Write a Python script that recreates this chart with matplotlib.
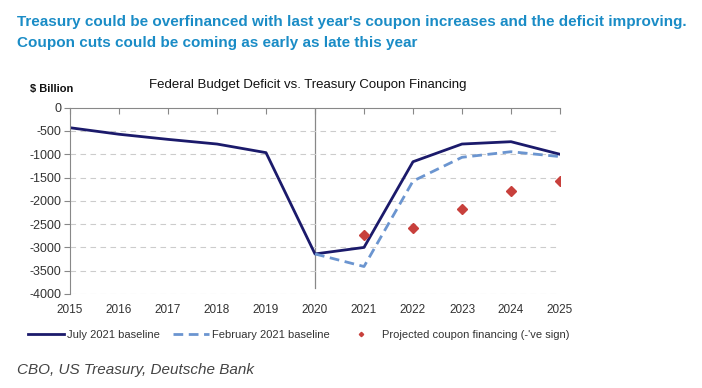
import matplotlib.pyplot as plt

years = [2015, 2016, 2017, 2018, 2019, 2020, 2021, 2022, 2023, 2024, 2025]
july_2021 = [-430, -570, -680, -780, -965, -3140, -3000, -1160, -780, -730, -1000]
feb_years = [2020, 2021, 2022, 2023, 2024, 2025]
feb_2021 = [-3140, -3410, -1575, -1065, -945, -1050]
proj_years = [2021, 2022, 2023, 2024, 2025]
proj_coupon = [-2730, -2590, -2180, -1780, -1575]
yticks = [0, -500, -1000, -1500, -2000, -2500, -3000, -3500, -4000]

plt.rcParams['font.family'] = ['Liberation Sans', 'DejaVu Sans']
plt.rcParams['axes.unicode_minus'] = False

fig = plt.figure(figsize=(7.02, 3.88), dpi=100)
ax = fig.add_axes([70 / 702, 1 - 294 / 388, 490 / 702, (294 - 107.7) / 388])

ax.plot(years, july_2021, color='#1b1a6b', lw=2, label='July 2021 baseline')
ax.plot(feb_years, feb_2021, color='#6b95d0', lw=2, ls=(0, (3.5, 2)),
        label='February 2021 baseline')
ax.plot(proj_years, proj_coupon, ls='none', marker='D', ms=5.5, color='#c8403c',
        label='Projected coupon financing (-\'ve sign)')

ax.axvline(2020, ymin=0.03, ymax=1, color='#888888', lw=0.9, zorder=0)

ax.set_xlim(2015, 2025)
ax.set_ylim(-4000, 0)
ax.set_yticks(yticks)
ax.set_xticks(years)
ax.set_xticklabels([])
for y in yticks[1:]:
    ax.axhline(y, color='#cccccc', lw=0.8, ls=(0, (5, 4)), zorder=0)

ax.spines['right'].set_visible(False)
ax.spines['bottom'].set_visible(False)
ax.spines['left'].set_color('#888888')
ax.spines['top'].set_color('#888888')
ax.tick_params(axis='y', direction='out', length=4, color='#888888',
               labelsize=9, labelcolor='#333333', pad=2)
ax.tick_params(axis='x', direction='in', length=4, color='#888888',
               top=True, bottom=False)

# year labels below the plot
for yr in years:
    ax.text(yr, -4350, str(yr), ha='center', va='center', fontsize=8.5,
            color='#333333')

fig.text(17 / 702, 1 - 22 / 388,
         "Treasury could be overfinanced with last year's coupon increases and the deficit improving.",
         color='#1a8cc6', fontsize=11, fontweight='bold', va='center')
fig.text(17 / 702, 1 - 43 / 388,
         "Coupon cuts could be coming as early as late this year",
         color='#1a8cc6', fontsize=11, fontweight='bold', va='center')

fig.text(308 / 702, 1 - 85 / 388,
         'Federal Budget Deficit vs. Treasury Coupon Financing',
         ha='center', va='center', fontsize=9.5, color='#111111')
fig.text(30 / 702, 1 - 89 / 388, '$ Billion', ha='left', va='center',
         fontsize=8, fontweight='bold', color='#111111')

fig.legend(loc='center left', bbox_to_anchor=(18 / 702, 1 - 335 / 388),
           ncol=3, frameon=False, fontsize=8, handlelength=3.2,
           handletextpad=0.3, columnspacing=1.2, markerscale=0.4,
           labelcolor='#333333')

fig.text(17 / 702, 1 - 370 / 388, 'CBO, US Treasury, Deutsche Bank',
         fontsize=11, style='italic', color='#444444', va='center')

fig.savefig('out.png', dpi=100)
